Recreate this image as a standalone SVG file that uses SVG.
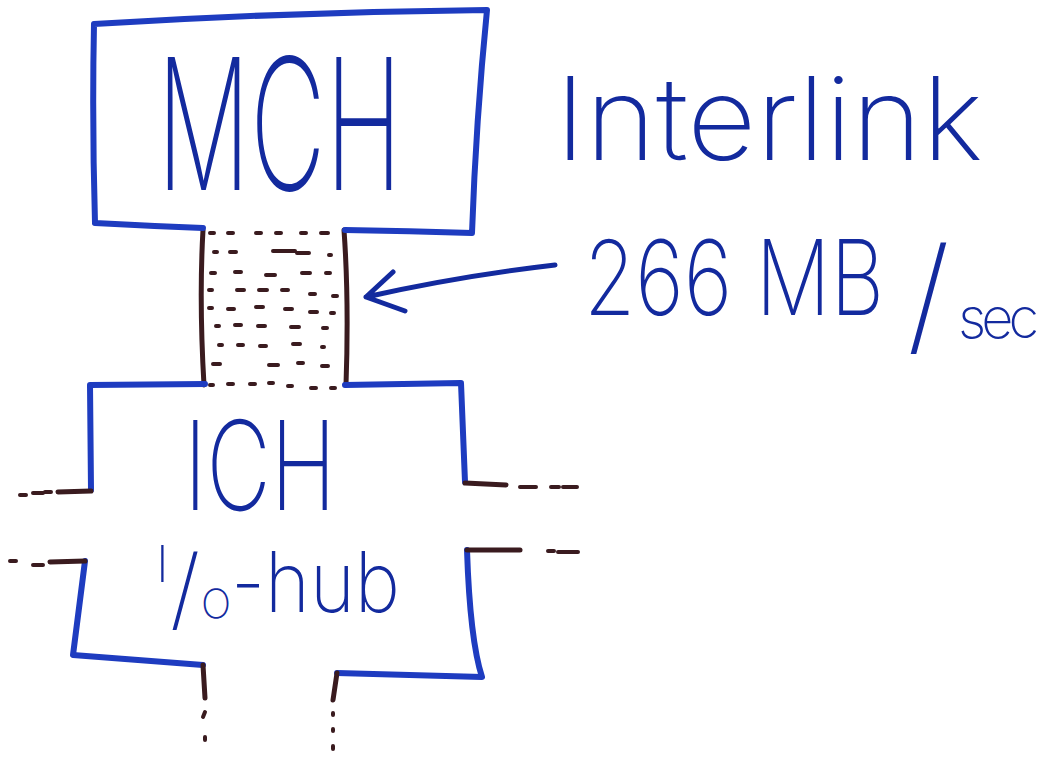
<svg xmlns="http://www.w3.org/2000/svg" width="1038" height="757" viewBox="0 0 1038 757">
<style>
.box{fill:none;stroke:#1e3cc0;stroke-width:6;stroke-linecap:round;stroke-linejoin:round}
.dark{fill:none;stroke:#3a1b1f;stroke-width:5;stroke-linecap:round;stroke-linejoin:round}
.dash{fill:none;stroke:#3a1b1f;stroke-width:4;stroke-linecap:round}
.arrow{fill:none;stroke:#132a9e;stroke-width:5;stroke-linecap:round;stroke-linejoin:round}
.t{fill:#132a9e;font-family:Inter,"Open Sans","DejaVu Sans",sans-serif;font-weight:200}
</style>
<rect width="1038" height="757" fill="#ffffff"/>
<g id="connectors">
  <g id="interlink-bus">
    <path class="dark" d="M203,230 Q199,300 204,385"/>
    <path class="dark" d="M344,230 Q349,300 346,385"/>
    <path class="dash" d="M210,233h4 M228,233h5 M256,233h5 M276,233h5 M301,233h5 M321,233h7
      M214,252h3 M230,252h6 M273,251h22 M297,253h12 M329,255h2
      M211,273h4 M235,272h6 M266,275h9 M302,273h8 M326,273h4
      M209,290h3 M237,290h7 M259,290h8 M282,290h6 M310,294h5 M333,296h4
      M209,308h3 M228,309h6 M256,307h7 M285,309h7 M310,312h7 M331,313h3
      M216,326h3 M235,325h6 M258,326h7 M291,327h8 M323,328h4
      M219,345h3 M238,345h5 M260,346h6 M293,344h7 M322,347h2
      M213,364h7 M269,365h9 M298,363h5 M322,366h6
      M210,385h3 M228,384h5 M250,384h5 M269,383h4 M288,386h4 M311,388h5 M331,388h4"/>
  </g>
  <path id="bandwidth-arrow" class="arrow" d="M555,265 Q460,276 366,297 M393,272 L366,297 L405,311"/>
</g>
<g id="mch">
  <path class="box" d="M95,223 Q92,120 94,24 Q290,12 487,10 Q476,120 472,233 Q410,231 345,230 M203,228 Q150,226 95,223"/>
  <text class="t" x="157" y="190" font-size="183" textLength="245" lengthAdjust="spacingAndGlyphs">MCH</text>
</g>
<g id="ich">
  <path class="box" d="M205,384 L90,385 L91,490"/>
  <path class="box" d="M345,385 L461,383 L465,482"/>
  <path class="box" d="M85,561 L73,655 L203,665"/>
  <path class="box" d="M467,550 Q470,640 482,677 L337,673"/>
  <path class="dark" d="M91,491 L58,492"/>
  <path class="dash" d="M20,495h6 M33,493h10 M45,492h6"/>
  <path class="dark" d="M465,483 L506,485"/>
  <path class="dash" d="M520,487h16 M551,487h8 M563,487h14"/>
  <path class="dark" d="M85,561 L50,562"/>
  <path class="dash" d="M10,561h6 M33,565h10"/>
  <path class="dark" d="M467,550 L520,550"/>
  <path class="dash" d="M548,551h6 M558,552h20"/>
  <path class="dark" d="M203,665 L205,698"/>
  <path class="dash" d="M205,712l-2,5 M205,737v3"/>
  <path class="dark" d="M337,673 L333,700"/>
  <path class="dash" d="M333,713v2 M333,729v2 M333,746v3"/>
  <text class="t" x="184" y="510" font-size="124" textLength="152" lengthAdjust="spacingAndGlyphs">ICH</text>
  <text class="t"><tspan x="156" y="582" font-size="50">I</tspan><tspan x="170" y="620" font-size="90">/</tspan><tspan x="201" y="618" font-size="40">O</tspan><tspan x="231" y="612" font-size="84" textLength="169" lengthAdjust="spacingAndGlyphs">-hub</tspan></text>
</g>
<g id="interlink-label">
  <text class="t" x="555" y="160" font-size="115" textLength="428" lengthAdjust="spacingAndGlyphs">Interlink</text>
</g>
<g id="bandwidth-label">
  <text class="t" x="584" y="315" font-size="104" textLength="300" lengthAdjust="spacingAndGlyphs">266 MB</text>
  <text class="t" x="907" y="340" font-size="128">/</text>
  <text class="t" x="958" y="338" font-size="56" letter-spacing="-5">sec</text>
</g>
</svg>
